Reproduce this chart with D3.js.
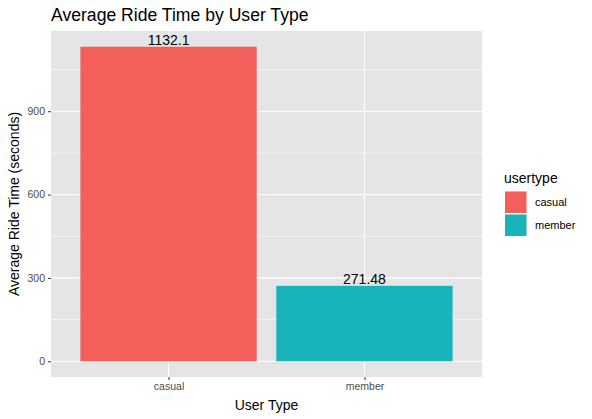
<!DOCTYPE html>
<html>
<head>
<meta charset="utf-8">
<script src="https://cdn.jsdelivr.net/npm/d3@7"></script>
<style>
  body { margin: 0; background: #fff; }
  text { font-family: "Liberation Sans", Arial, sans-serif; }
</style>
</head>
<body>
<svg id="chart" width="592" height="419"></svg>
<script>
// Data
const userTypes = ["casual", "member"];
const avgRideTime = [1132.1, 271.48];
const labels = ["1132.1", "271.48"];
const yTicks = [0, 300, 600, 900];
const yMinor = [150, 450, 750, 1050];

const svg = d3.select("#chart");
const panel = { left: 51, right: 482, top: 31, bottom: 377 };

// ggplot-style expansion
const yMax = d3.max(avgRideTime);
const y = d3.scaleLinear()
    .domain([-yMax * 0.05, yMax * 1.05])
    .range([panel.bottom, panel.top]);

const unit = (panel.right - panel.left) / 2.2;
const xc = d3.scalePoint()
    .domain(userTypes)
    .range([panel.left + unit * 0.6, panel.right - unit * 0.6]);
const barW = unit * 0.9;

const color = d3.scaleOrdinal().domain(userTypes).range(["#F35F5B", "#19B4B9"]);

// Panel background
svg.append("rect")
    .attr("x", panel.left).attr("y", panel.top)
    .attr("width", panel.right - panel.left)
    .attr("height", panel.bottom - panel.top)
    .attr("fill", "#E5E5E5");

// Grid lines
svg.selectAll("line.minor").data(yMinor).enter().append("line")
    .attr("x1", panel.left).attr("x2", panel.right)
    .attr("y1", d => y(d)).attr("y2", d => y(d))
    .attr("stroke", "#fff").attr("stroke-width", 0.55);

svg.selectAll("line.major").data(yTicks).enter().append("line")
    .attr("x1", panel.left).attr("x2", panel.right)
    .attr("y1", d => y(d)).attr("y2", d => y(d))
    .attr("stroke", "#fff").attr("stroke-width", 1.1);

svg.selectAll("line.vmajor").data(userTypes).enter().append("line")
    .attr("x1", d => xc(d)).attr("x2", d => xc(d))
    .attr("y1", panel.top).attr("y2", panel.bottom)
    .attr("stroke", "#fff").attr("stroke-width", 1.1);

// Bars
const data = userTypes.map((t, i) => ({ type: t, value: avgRideTime[i], label: labels[i] }));

svg.selectAll("rect.bar").data(data).enter().append("rect")
    .attr("x", d => xc(d.type) - barW / 2)
    .attr("y", d => y(d.value))
    .attr("width", barW)
    .attr("height", d => y(0) - y(d.value))
    .attr("fill", d => color(d.type));

svg.selectAll("text.val").data(data).enter().append("text")
    .attr("x", d => xc(d.type))
    .attr("y", d => y(d.value) - 2)
    .attr("text-anchor", "middle")
    .attr("font-size", "14px")
    .attr("fill", "#000")
    .text(d => d.label);

// Y axis
const yAxis = svg.append("g").attr("transform", `translate(${panel.left},0)`)
    .call(d3.axisLeft(y).tickValues(yTicks).tickSize(3).tickPadding(3));
yAxis.select(".domain").remove();
yAxis.selectAll("line").attr("stroke", "#333");
yAxis.selectAll("text").attr("fill", "#4D4D4D").attr("font-size", "10.5px")
    .style("font-family", "Liberation Sans, Arial, sans-serif");

// X axis
const xAxis = svg.append("g").attr("transform", `translate(0,${panel.bottom})`)
    .call(d3.axisBottom(xc).tickSize(3).tickPadding(3));
xAxis.select(".domain").remove();
xAxis.selectAll("line").attr("stroke", "#333");
xAxis.selectAll("text").attr("fill", "#4D4D4D").attr("font-size", "10.5px")
    .style("font-family", "Liberation Sans, Arial, sans-serif");

// Titles
svg.append("text")
    .attr("x", panel.left).attr("y", 21)
    .attr("font-size", "17.6px").attr("fill", "#000")
    .text("Average Ride Time by User Type");

svg.append("text")
    .attr("x", (panel.left + panel.right) / 2).attr("y", 410)
    .attr("text-anchor", "middle")
    .attr("font-size", "14px").attr("fill", "#000")
    .text("User Type");

svg.append("text")
    .attr("transform", `translate(19,${(panel.top + panel.bottom) / 2}) rotate(-90)`)
    .attr("text-anchor", "middle")
    .attr("font-size", "14px").attr("fill", "#000")
    .text("Average Ride Time (seconds)");

// Legend
const legend = svg.append("g").attr("transform", "translate(504,0)");
legend.append("text")
    .attr("x", 0).attr("y", 183)
    .attr("font-size", "14px").attr("fill", "#000")
    .text("usertype");

const keys = legend.selectAll("g.key").data(userTypes).enter().append("g")
    .attr("transform", (d, i) => `translate(0,${191 + i * 23})`);
keys.append("rect")
    .attr("x", 1).attr("y", 0)
    .attr("width", 22).attr("height", 22)
    .attr("fill", "#F2F2F2");
keys.append("rect")
    .attr("x", 1).attr("y", 0.5)
    .attr("width", 21.5).attr("height", 21.5)
    .attr("fill", d => color(d));
keys.append("text")
    .attr("x", 31).attr("y", 15)
    .attr("font-size", "11px").attr("fill", "#000")
    .text(d => d);
</script>
</body>
</html>
